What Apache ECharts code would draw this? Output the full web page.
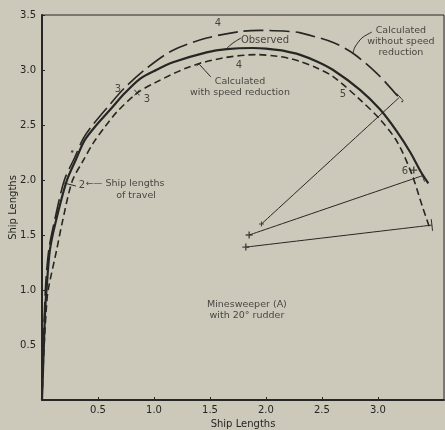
<!DOCTYPE html>
<html><head><meta charset="utf-8">
<script src="https://cdn.jsdelivr.net/npm/echarts@6/dist/echarts.min.js"></script>
<style>html,body{margin:0;padding:0;background:#cdc9ba}#c{width:445px;height:430px}</style>
</head><body><div id="c"></div>
<script>
// Tick values
const xTicks = [0.5, 1.0, 1.5, 2.0, 2.5, 3.0];
const yTicks = [0.5, 1.0, 1.5, 2.0, 2.5, 3.0, 3.5];

// Observed turning path (ship lengths)
const observed = [[0,0],[0.01,0.3],[0.02,0.6],[0.03,0.85],[0.04,1.0],[0.07,1.36],[0.12,1.61],[0.22,1.99],[0.30,2.18],[0.38,2.36],[0.47,2.48],[0.61,2.64],[0.74,2.79],[0.875,2.92],[1.02,3.0],[1.17,3.07],[1.47,3.16],[1.65,3.19],[1.88,3.2],[2.0,3.195],[2.12,3.18],[2.22,3.16],[2.30,3.14],[2.45,3.08],[2.60,3.0],[2.84,2.82],[3.02,2.64],[3.17,2.44],[3.29,2.25],[3.38,2.08],[3.45,1.97]];

// Calculated with speed reduction
const withReduction = [[0,0],[0.01,0.3],[0.025,0.6],[0.04,0.85],[0.055,1.0],[0.13,1.36],[0.18,1.61],[0.27,1.99],[0.37,2.18],[0.46,2.34],[0.56,2.48],[0.67,2.62],[0.85,2.79],[1.02,2.89],[1.32,3.03],[1.62,3.11],[1.92,3.14],[2.1,3.125],[2.21,3.105],[2.30,3.08],[2.45,3.02],[2.60,2.94],[2.84,2.73],[3.02,2.55],[3.17,2.35],[3.30,2.06],[3.40,1.75],[3.46,1.57]];

// Calculated without speed reduction
const withoutReduction = [[0,0],[0.01,0.4],[0.03,1.0],[0.06,1.36],[0.11,1.62],[0.2,2.0],[0.29,2.2],[0.37,2.38],[0.46,2.51],[0.6,2.68],[0.74,2.84],[0.94,3.02],[1.17,3.18],[1.47,3.29],[1.77,3.35],[1.95,3.36],[2.21,3.35],[2.30,3.34],[2.60,3.25],[2.78,3.15],[2.99,2.97],[3.11,2.84],[3.22,2.71]];

// Radius lines from turning centres
const radialLines = [[[1.96,1.60],[3.19,2.75]],[[1.85,1.50],[3.40,2.04]],[[1.82,1.39],[3.48,1.59]]];
const endTicks = [[[3.227,2.721],[3.166,2.788]],[[3.416,1.985],[3.388,2.070]],[[3.488,1.536],[3.476,1.645]],[[0.196,1.973],[0.304,1.945]]];
const leaders = [
  [[1.777,3.291],[1.705,3.245],[1.643,3.191]],
  [[1.509,2.936],[1.402,3.055]],
  [[1.421,3.073],[1.382,3.036]],
  [[2.946,3.345],[2.857,3.291],[2.795,3.209],[2.777,3.155]]
];
const plusMarks = [[1.96,1.60,5],[1.85,1.50,7],[1.82,1.39,7],[3.32,2.09,7]];
const dots = [[0.27,2.26]];

// Text annotations [text, x, y, fontSize]
const notes = [
  ['4', 1.571, 3.427, 10],
  ['4', 1.759, 3.045, 10],
  ['3', 0.679, 2.827, 10],
  ['×', 0.848, 2.791, 10],
  ['3', 0.938, 2.736, 10],
  ['5', 2.688, 2.782, 10],
  ['6', 3.241, 2.082, 10],
  ['2', 0.357, 1.95, 10],
  ['←—', 0.464, 1.97, 9],
  ['Ship lengths', 0.83, 1.97, 9.5],
  ['of travel', 0.84, 1.86, 9.5],
  ['Observed', 1.991, 3.273, 10],
  ['Calculated\nwith speed reduction', 1.768, 2.841, 9.5],
  ['Calculated\nwithout speed\nreduction', 3.205, 3.259, 9.5],
  ['Minesweeper (A)\nwith 20° rudder', 1.83, 0.814, 9.5]
];

const INK = '#262624';
const TXT = '#242422';
const FONT = 'DejaVu Sans';
const series = [];
series.push({type:'line', data:observed, smooth:0.3, symbol:'none', lineStyle:{color:INK, width:2.2}, z:5});
series.push({type:'line', data:withReduction, smooth:0.3, symbol:'none', lineStyle:{color:INK, width:1.6, type:[7,4]}, z:4});
series.push({type:'line', data:withoutReduction, smooth:0.3, symbol:'none', lineStyle:{color:INK, width:1.6, type:[20,6]}, z:4});
[...radialLines, ...endTicks, ...leaders].forEach(seg => {
  series.push({type:'line', data:seg, symbol:'none', smooth:0.3, lineStyle:{color:INK, width:1}, z:3});
});
series.push({type:'scatter', data:plusMarks.map(p=>({value:[p[0],p[1]], symbolSize:p[2]})),
  symbol:'path://M4,0h2v4h4v2h-4v4h-2v-4h-4v-2h4z', itemStyle:{color:INK}, z:6});
series.push({type:'scatter', data:dots, symbolSize:2.5, itemStyle:{color:INK}, z:6});
series.push({type:'scatter', symbolSize:1, itemStyle:{color:'rgba(0,0,0,0)'}, z:7,
  data: notes.map(n => ({value:[n[1],n[2]], label:{show:true, position:'inside', formatter:n[0],
    fontFamily:FONT, fontSize:n[3], color:TXT, lineHeight:11, align:'center', verticalAlign:'middle'}}))});

const chart = echarts.init(document.getElementById('c'), null, {renderer:'canvas'});
chart.setOption({
  backgroundColor:'#cdc9ba',
  animation:false,
  grid:{left:42, right:1, top:15, bottom:30, containLabel:false, outerBoundsMode:'none',
    show:true, borderColor:INK, borderWidth:1, backgroundColor:'transparent'},
  xAxis:{type:'value', min:0, max:3.59, interval:0.5,
    name:'Ship Lengths', nameLocation:'middle', nameGap:19, nameMoveOverlap:false,
    nameTextStyle:{fontFamily:FONT, fontSize:10, color:TXT},
    axisLine:{show:true, lineStyle:{color:INK, width:2}},
    axisTick:{show:true, inside:true, length:3, customValues:xTicks, lineStyle:{color:INK}},
    axisLabel:{customValues:xTicks, formatter:v=>v.toFixed(1), margin:5, fontFamily:FONT, fontSize:10, color:TXT},
    splitLine:{show:false}},
  yAxis:{type:'value', min:0, max:3.5, interval:0.5,
    name:'Ship Lengths', nameLocation:'middle', nameGap:24, nameRotate:90, nameMoveOverlap:false,
    nameTextStyle:{fontFamily:FONT, fontSize:10, color:TXT},
    axisLine:{show:true, lineStyle:{color:INK, width:2}},
    axisTick:{show:true, inside:true, length:3, customValues:yTicks, lineStyle:{color:INK}},
    axisLabel:{customValues:yTicks, formatter:v=>v.toFixed(1), margin:6, fontFamily:FONT, fontSize:10, color:TXT},
    splitLine:{show:false}},
  series: series
});
</script></body></html>
